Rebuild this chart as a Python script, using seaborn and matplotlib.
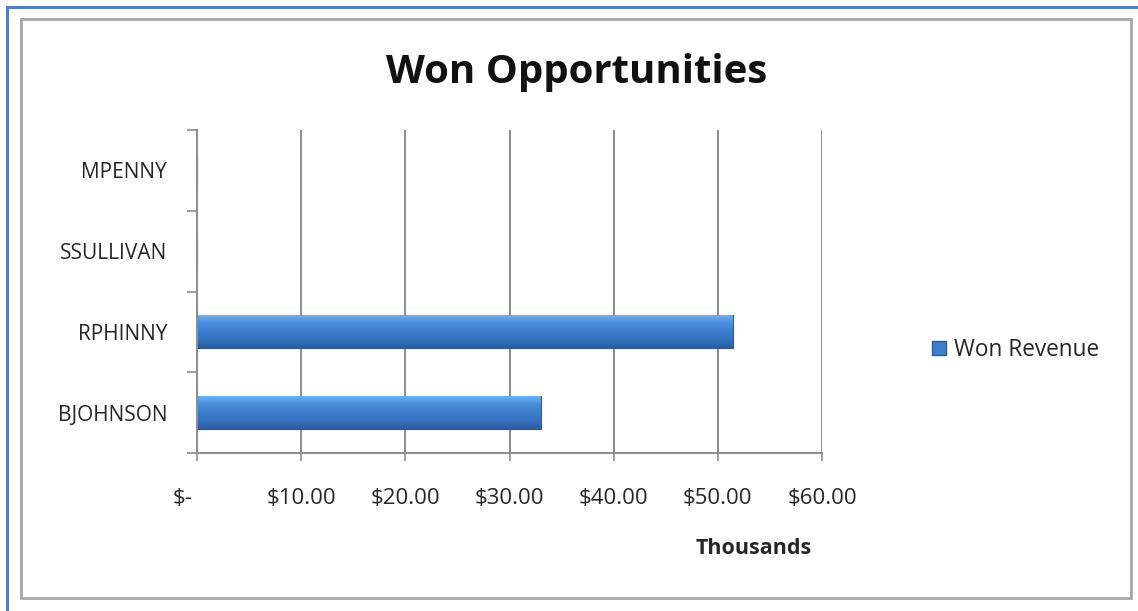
import numpy as np
import pandas as pd
import matplotlib
matplotlib.use("Agg")
import matplotlib.pyplot as plt
import seaborn as sns
from matplotlib.patches import Rectangle
from matplotlib.ticker import FixedLocator, FuncFormatter
from matplotlib.colors import LinearSegmentedColormap
import matplotlib.transforms as mtransforms

# ---- data (values in thousands of dollars) ----
reps = ["MPENNY", "SSULLIVAN", "RPHINNY", "BJOHNSON"]
won_revenue = [0.0, 0.0, 51.45, 33.0]
x_ticks = [0, 10, 20, 30, 40, 50, 60]
x_tick_labels = ["$-", "$10.00", "$20.00", "$30.00", "$40.00", "$50.00", "$60.00"]
series_name = "Won Revenue"
title = "Won Opportunities"
x_unit = "Thousands"

df = pd.DataFrame({"Rep": reps, series_name: won_revenue})

sns.set_theme(style="white")
plt.rcParams["font.family"] = ["Open Sans", "DejaVu Sans"]

W, H = 1138, 611
fig = plt.figure(figsize=(W / 100, H / 100), dpi=100)
fig.patch.set_facecolor("white")

# outer decorative borders
fig.add_artist(Rectangle((7 / W, -0.05), 1.2, (H - 7) / H + 0.05, transform=fig.transFigure,
                         fill=False, edgecolor="#4F81BD", linewidth=2.2))
fig.add_artist(Rectangle((21 / W, (H - 598) / H), (1131 - 21) / W, (598 - 19) / H,
                         transform=fig.transFigure, fill=False, edgecolor="#A6A6A6", linewidth=2.0))

ax = fig.add_axes([197 / W, (H - 453) / H, (822 - 197) / W, (453 - 130) / H])
bar_color = "#3C7DCC"
sns.barplot(data=df, x=series_name, y="Rep", order=reps, color=bar_color, width=0.41,
            orient="h", ax=ax, saturation=1, edgecolor="#2B5A93", linewidth=0.8)

# gradient shading on the bars (clipped to each bar drawn by seaborn)
grad = np.linspace(0, 1, 64).reshape(-1, 1)
cmap = LinearSegmentedColormap.from_list("bev", ["#6DB6F7", "#4A90DE", "#3C7DCC", "#3672C0", "#2C5C9E"])
for p in ax.patches:
    if p.get_width() <= 0:
        continue
    x0, y0 = p.get_x(), p.get_y()
    w, h = p.get_width(), p.get_height()
    im = ax.imshow(grad, cmap=cmap, aspect="auto", extent=(x0, x0 + w, y0 + h, y0),
                   origin="upper", zorder=p.get_zorder() + 0.1, interpolation="bilinear")
    im.set_clip_path(p)

ax.set_xlim(0, 60)
ax.set_ylim(len(reps) - 0.5, -0.5)

ax.xaxis.set_major_locator(FixedLocator(x_ticks))
ax.set_xticklabels(x_tick_labels)
ax.grid(axis="x", color="#8C8C8C", linewidth=1.4)
ax.set_axisbelow(True)

# y ticks at category boundaries, labels at centres
ax.yaxis.set_major_locator(FixedLocator(np.arange(-0.5, len(reps), 1.0)))
ax.yaxis.set_major_formatter(FuncFormatter(lambda v, pos: ""))
ax.set_yticks(np.arange(len(reps)), labels=reps, minor=True)
ax.tick_params(axis="y", which="major", length=7, width=1.2, color="#8C8C8C", direction="out", left=True)
ax.tick_params(axis="y", which="minor", length=0, pad=21.5, labelsize=15, labelcolor="#262626")
ax.tick_params(axis="x", which="major", length=6, width=1.2, color="#8C8C8C", direction="out",
               bottom=True, pad=19, labelsize=16, labelcolor="#262626")

# accounting-style zero label sits to the left of its tick
first = ax.get_xticklabels()[0]
first.set_horizontalalignment("right")
first.set_transform(first.get_transform() + mtransforms.ScaledTranslation(-4 / 100, 0, fig.dpi_scale_trans))

for s in ["top", "right"]:
    ax.spines[s].set_visible(False)
for s in ["left", "bottom"]:
    ax.spines[s].set_color("#8C8C8C")
    ax.spines[s].set_linewidth(1.4)

ax.set_xlabel("")
ax.set_ylabel("")

fig.text(577 / W, (H - 72) / H, title, ha="center", va="center", fontsize=29, fontweight="bold",
         color="#111111")
fig.text(754 / W, (H - 549) / H, x_unit, ha="center", va="center", fontsize=15.5, fontweight="bold",
         color="#262626")

ax.legend(handles=[Rectangle((0, 0), 1, 1, facecolor=bar_color, edgecolor="#2B5A93")],
          labels=[series_name], loc="center left", bbox_to_anchor=(921 / W, (H - 350) / H),
          bbox_transform=fig.transFigure, frameon=False, fontsize=16.3, handlelength=0.6,
          handleheight=0.6, handletextpad=0.35, borderpad=0, labelcolor="#262626")

fig.savefig("out.png", dpi=100, facecolor="white")
